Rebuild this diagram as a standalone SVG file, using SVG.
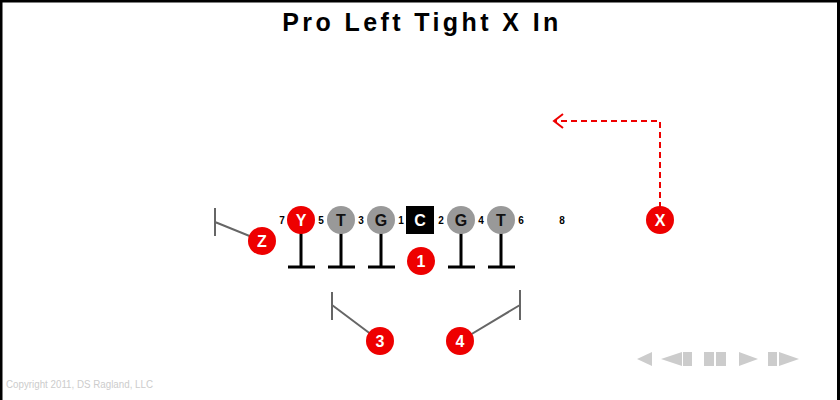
<svg xmlns="http://www.w3.org/2000/svg" width="840" height="400" viewBox="0 0 840 400">
<style>
.title{font-family:"Liberation Sans",Arial,sans-serif;font-weight:bold;font-size:25px;letter-spacing:3.4px;fill:#000}
.red{fill:#ee0000}
.gray{fill:#999}
.lw{font-family:"Liberation Sans",Arial,sans-serif;font-weight:bold;font-size:16px;fill:#fff;text-anchor:middle}
.lb{font-family:"Liberation Sans",Arial,sans-serif;font-weight:bold;font-size:16px;fill:#111;text-anchor:middle}
.num{font-family:"Liberation Sans",Arial,sans-serif;font-weight:bold;font-size:10px;fill:#000;text-anchor:middle}
.blk{stroke:#000;stroke-width:3;fill:none}
.rt{stroke:#666;stroke-width:2;fill:none}
.ctl{fill:#ccc}
.copy{font-family:"Liberation Sans",Arial,sans-serif;font-size:10px;fill:#ccc}
</style>
<rect x="0" y="0" width="840" height="400" fill="#fff"/>
<path d="M1,400 V1 H838.5 V400" fill="none" stroke="#000" stroke-width="3"/>
<text class="title" x="422" y="31" text-anchor="middle">Pro Left Tight X In</text>
<g id="connectors">
<path class="blk" d="M301,233 V267 M288,267 H315"/>
<path class="blk" d="M341,233 V267 M328,267 H355"/>
<path class="blk" d="M381,233 V267 M368,267 H395"/>
<path class="blk" d="M461,233 V267 M448,267 H475"/>
<path class="blk" d="M501,233 V267 M488,267 H515"/>
<path class="rt" d="M262,241 L215,222 M215,208 V236"/>
<path class="rt" d="M380,341 L332,305 M332,292 V320"/>
<path class="rt" d="M460,341 L520,305 M520,290 V320"/>
<path d="M660,208 V121 H555" fill="none" stroke="#ee0000" stroke-width="2" stroke-dasharray="6,4"/>
<path d="M563,114 L554,121 L563,128" fill="none" stroke="#ee0000" stroke-width="2"/>
</g>
<g id="nY"><circle class="red" cx="301" cy="220" r="14"/><text class="lw" x="301" y="226">Y</text></g>
<g id="nT1"><circle class="gray" cx="341" cy="220" r="14"/><text class="lb" x="341" y="226">T</text></g>
<g id="nG1"><circle class="gray" cx="381" cy="220" r="14"/><text class="lb" x="381" y="226">G</text></g>
<g id="nC"><rect x="406" y="206" width="28" height="28" fill="#000"/><text class="lw" x="420" y="226">C</text></g>
<g id="nG2"><circle class="gray" cx="461" cy="220" r="14"/><text class="lb" x="461" y="226">G</text></g>
<g id="nT2"><circle class="gray" cx="501" cy="220" r="14"/><text class="lb" x="501" y="226">T</text></g>
<g id="nX"><circle class="red" cx="660" cy="220" r="14"/><text class="lw" x="660" y="226">X</text></g>
<g id="nZ"><circle class="red" cx="262" cy="241" r="14"/><text class="lw" x="262" y="247">Z</text></g>
<g id="n1"><circle class="red" cx="421" cy="261" r="14"/><text class="lw" x="421" y="267">1</text></g>
<g id="n3"><circle class="red" cx="380" cy="341" r="14"/><text class="lw" x="380" y="347">3</text></g>
<g id="n4"><circle class="red" cx="460" cy="341" r="14"/><text class="lw" x="460" y="347">4</text></g>
<g id="holes">
<text class="num" x="282" y="224">7</text>
<text class="num" x="321" y="224">5</text>
<text class="num" x="361" y="224">3</text>
<text class="num" x="401" y="224">1</text>
<text class="num" x="441" y="224">2</text>
<text class="num" x="481" y="224">4</text>
<text class="num" x="521" y="224">6</text>
<text class="num" x="562" y="224">8</text>
</g>
<g id="controls">
<polygon class="ctl" points="637,359 652,352 652,366"/>
<polygon class="ctl" points="661,359 682,352 682,366"/>
<rect class="ctl" x="683" y="352" width="9" height="14"/>
<rect class="ctl" x="704" y="352" width="10" height="14"/>
<rect class="ctl" x="716" y="352" width="10" height="14"/>
<polygon class="ctl" points="739,352 758,359 739,366"/>
<rect class="ctl" x="768" y="352" width="9" height="14"/>
<polygon class="ctl" points="779,352 799,359 779,366"/>
</g>
<text class="copy" x="6" y="388" textLength="147" lengthAdjust="spacingAndGlyphs">Copyright 2011, DS Ragland, LLC</text>
</svg>
